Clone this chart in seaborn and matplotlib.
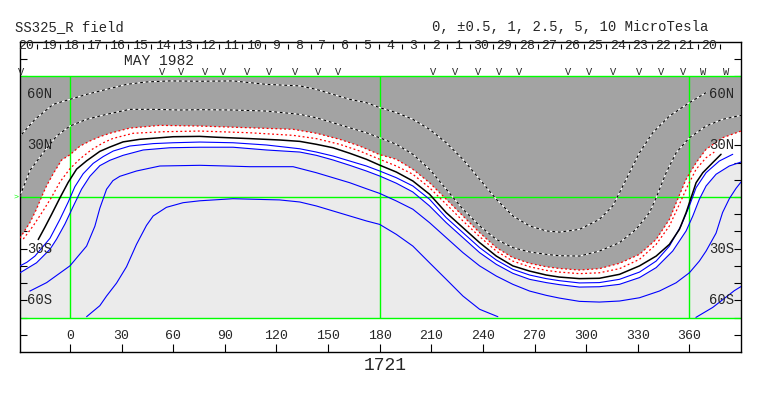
import numpy as np
import matplotlib
matplotlib.use("Agg")
import matplotlib.pyplot as plt
import seaborn as sns

# contour traces (Carrington longitude, latitude)
neutral_lon = [-18.4, -14.5, -10.6, -5.8, -1.0, 3.9, 9.7, 17.4, 23.2, 30.9, 40.6, 52.3, 60.0, 75.5, 85.2,
               104.5, 121.9, 133.6, 143.2, 152.9, 162.6, 172.3, 180.0, 189.7, 199.3, 209.0, 218.7, 228.4,
               238.1, 247.8, 257.4, 267.1, 276.8, 284.5, 296.1, 307.7, 319.4, 331.0, 340.7, 348.4, 354.2,
               358.1, 361.0, 363.9, 367.8, 373.5, 378.4]
neutral_lat = [-24.7, -17.5, -10.0, -0.5, 8.5, 16.2, 21.0, 26.5, 29.0, 32.0, 33.5, 34.4, 35.0, 35.2, 34.7,
               33.9, 33.1, 32.3, 30.6, 28.6, 25.4, 21.9, 18.5, 14.5, 9.3, 1.6, -9.1, -17.8,
               -26.5, -34.3, -40.0, -43.0, -45.3, -46.5, -47.4, -47.2, -44.9, -40.0, -34.3, -27.5, -18.8,
               -9.1, -0.4, 8.3, 14.1, 19.9, 24.8]

pos1_lon = [-29.0, -23.2, -19.4, -16.5, -13.5, -9.7, -4.8, 0.0, 5.8, 11.6, 17.4, 23.2, 34.8, 52.3, 75.5,
            104.5, 129.7, 143.2, 156.8, 168.4, 180.0, 189.7, 199.3, 209.0, 218.7, 228.4, 238.1, 247.8,
            257.4, 267.1, 276.8, 284.5, 296.1, 307.7, 319.4, 331.0, 340.7, 348.4, 353.2, 358.1, 363.9,
            369.7, 379.3, 390.0]
pos1_lat = [-23.8, -14.8, -7.0, 0.0, 6.6, 13.5, 21.5, 24.5, 29.5, 32.5, 35.0, 37.0, 40.0, 41.6, 41.2,
            40.2, 39.3, 37.0, 33.5, 29.6, 24.6, 21.9, 16.1, 8.3, -1.3, -11.0, -20.7, -29.4,
            -35.2, -38.5, -40.5, -41.5, -42.4, -41.6, -38.5, -33.3, -24.6, -13.0, -1.3, 10.3, 19.9,
            27.7, 34.4, 38.3]

pos05_lon = [-27.1, -21.3, -15.5, -10.6, -5.8, 0.0, 5.8, 12.6, 19.4, 25.0, 36.8, 54.2, 75.5, 104.5, 129.7,
             143.2, 156.8, 168.4, 180.0, 189.7, 199.3, 209.0, 218.7, 228.4, 238.1, 247.8, 257.4, 267.1,
             276.8, 284.5, 296.1, 307.7, 319.4, 331.0, 340.7, 348.4, 354.2, 359.0, 363.9, 369.7, 374.5]
pos05_lat = [-24.4, -16.7, -7.9, 0.0, 8.7, 16.4, 22.1, 27.5, 31.5, 34.0, 37.0, 37.9, 38.3, 37.3, 35.8,
             33.9, 30.6, 26.7, 21.9, 18.0, 13.2, 5.4, -4.2, -13.9, -23.0, -31.4, -37.2, -40.5,
             -42.6, -43.6, -44.5, -44.0, -41.6, -36.2, -27.5, -16.8, -4.2, 6.4, 16.1, 22.8, 26.1]

pos25_lon = [-29.0, -23.2, -15.5, -7.7, 0.0, 9.7, 21.3, 34.8, 48.4, 63.9, 75.5, 94.8, 114.2, 133.6, 143.2,
             152.9, 162.6, 172.3, 180.0, 189.7, 199.3, 209.0, 218.7, 228.4, 238.1, 247.8, 257.4, 267.1,
             276.8, 284.5, 296.1, 307.7, 319.4, 329.0, 336.8, 340.7, 346.5, 352.3, 360.0, 369.7, 379.3,
             390.0]
pos25_lat = [0.6, 15.5, 25.7, 35.4, 41.2, 45.1, 48.0, 50.9, 50.9, 50.5, 50.7, 50.5, 49.9, 48.0, 46.0,
             43.1, 40.2, 37.3, 34.4, 30.6, 24.8, 16.1, 4.5, -7.1, -16.8, -24.6, -29.4, -31.9,
             -33.3, -34.1, -34.3, -31.4, -26.5, -18.8, -9.1, -0.4, 14.1, 25.7, 34.4, 41.2, 45.1,
             47.4]

pos5_lon = [-28.0, -20.3, -9.7, 0.0, 9.7, 21.3, 32.9, 44.5, 58.1, 75.5, 94.8, 114.2, 133.6, 143.2, 152.9,
            162.6, 172.3, 180.0, 189.7, 199.3, 209.0, 218.7, 228.4, 238.1, 247.8, 257.4, 267.1, 276.8,
            284.5, 296.1, 307.7, 315.5, 319.4, 325.2, 331.0, 338.7, 348.4, 360.0, 369.7]
pos5_lat = [36.4, 45.1, 53.8, 56.7, 59.6, 62.5, 65.4, 66.8, 67.4, 67.2, 67.4, 65.4, 64.5, 62.5, 59.6,
            56.7, 54.8, 51.9, 49.0, 45.1, 39.3, 31.5, 21.9, 10.3, -1.3, -11.0, -16.8, -19.7,
            -20.4, -18.8, -13.0, -5.2, 2.5, 14.1, 25.7, 37.3, 47.0, 54.8, 60.6]

neg05_lon = [-29.0, -25.0, -20.3, -11.6, -5.8, -1.0, 2.9, 7.7, 13.5, 19.4, 25.2, 34.8, 48.4, 60.0, 75.5,
             94.8, 114.2, 133.6, 143.2, 152.9, 162.6, 172.3, 180.0, 189.7, 199.3, 209.0, 218.7, 228.4,
             238.1, 247.8, 257.4, 267.1, 276.8, 284.5, 296.1, 307.7, 319.4, 331.0, 340.7, 348.4, 355.1,
             360.0, 363.9, 369.7, 377.4, 385.2]
neg05_lat = [-40.0, -37.9, -34.3, -24.0, -13.0, -3.0, 6.0, 13.5, 19.5, 23.5, 26.7, 29.6, 31.0, 31.5, 31.9,
             31.5, 30.2, 28.0, 26.1, 23.8, 20.9, 18.0, 15.1, 11.2, 6.4, -1.3, -12.0, -20.7,
             -29.4, -36.6, -42.0, -45.3, -47.4, -48.6, -49.9, -49.7, -47.8, -43.6, -37.2, -28.5, -16.8,
             -5.2, 5.4, 14.1, 20.9, 24.8]

neg1_lon = [-29.0, -19.4, -11.6, -7.7, -2.9, 1.9, 6.8, 11.6, 17.4, 23.2, 30.9, 42.6, 58.1, 75.5, 94.8,
            114.2, 133.6, 143.2, 152.9, 162.6, 172.3, 180.0, 189.7, 199.3, 209.0, 218.7, 228.4, 238.1,
            247.8, 257.4, 267.1, 276.8, 284.5, 296.1, 307.7, 319.4, 331.0, 340.7, 350.3, 358.1, 362.0,
            365.8, 369.7, 375.5, 383.2, 390.0]
neg1_lat = [-44.0, -38.2, -30.4, -24.4, -15.7, -5.5, 4.6, 12.0, 18.2, 21.3, 24.2, 27.3, 28.6, 28.9, 28.9,
            27.3, 26.1, 24.2, 21.5, 18.4, 15.1, 12.2, 8.0, 2.9, -5.2, -14.9, -23.6, -32.3,
            -39.1, -44.3, -47.8, -49.7, -50.9, -52.3, -52.1, -50.7, -46.8, -41.0, -31.4, -19.7, -11.0,
            -1.3, 6.4, 13.2, 18.0, 20.3]

neg25_lon = [-23.2, -13.5, 0.0, 9.7, 14.5, 17.4, 21.3, 25.0, 29.0, 38.7, 52.3, 75.5, 91.0, 104.5, 129.7,
             143.2, 152.9, 162.6, 172.3, 180.0, 189.7, 199.3, 209.0, 218.7, 228.4, 238.1, 247.8, 257.4,
             267.1, 276.8, 284.5, 296.1, 307.7, 319.4, 331.0, 342.6, 352.3, 360.0, 365.8, 369.7, 375.5,
             379.3, 383.2, 387.1, 390.0]
neg25_lat = [-54.6, -49.7, -40.0, -28.5, -17.0, -6.5, 4.5, 9.5, 12.0, 15.1, 18.0, 18.4, 18.0, 17.6, 17.6,
             14.1, 11.2, 8.3, 4.8, 2.1, -2.3, -7.1, -14.9, -23.6, -32.3, -40.0, -45.9, -50.7,
             -54.6, -57.1, -58.7, -60.6, -61.0, -60.4, -58.5, -54.6, -49.8, -44.0, -37.2, -31.4, -21.0,
             -9.0, -1.0, 5.0, 8.7]

neg5_lon = [9.7, 17.4, 21.3, 27.1, 32.9, 38.7, 44.5, 48.4, 56.1, 65.8, 75.5, 94.8, 121.9, 133.6, 143.2,
            152.9, 162.6, 172.3, 180.0, 189.7, 199.3, 209.0, 218.7, 228.4, 238.1, 248.7]
neg5_lat = [-69.5, -63.1, -57.5, -50.0, -40.5, -27.5, -16.5, -11.0, -6.0, -3.3, -2.2, -1.0, -1.7, -2.9, -5.2,
            -8.1, -11.0, -13.9, -15.9, -21.7, -28.5, -38.2, -47.8, -57.5, -65.2, -69.5]
neg5b_lon = [363.8, 373.6, 386.1, 390.0]
neg5b_lat = [-69.9, -64.1, -54.4, -52.0]

# top strip: days of May/April 1982 and observation marks
days = [20, 19, 18, 17, 16, 15, 14, 13, 12, 11, 10, 9, 8, 7, 6, 5, 4, 3, 2, 1,
        30, 29, 28, 27, 26, 25, 24, 23, 22, 21, 20]
obs_lon = [-28.5, 53.6, 64.4, 78.4, 89.0, 103.0, 115.7, 130.6, 144.2, 155.8, 211.0, 224.1, 237.1,
           249.3, 261.3, 289.3, 301.9, 315.5, 330.6, 343.6, 356.5, 367.7, 381.3]
obs_mark = ["V"] * 21 + ["W", "W"]

lon_ticks = [0, 30, 60, 90, 120, 150, 180, 210, 240, 270, 300, 330, 360]
lat_labels = ["60N", "30N", "30S", "60S"]
lat_label_pos = [60, 30, -30, -60]

sns.set_style("white")
plt.rcParams["font.family"] = ["Liberation Mono", "DejaVu Sans Mono"]

DARK = "#a3a3a3"
LIGHT = "#ebebeb"
GREEN = "#00ff00"
BLUE = "#0000ff"
RED = "#ff0000"

fig = plt.figure(figsize=(7.63, 3.96), dpi=100)
ax = fig.add_axes([20 / 763, 44 / 396, 721 / 763, 310 / 396])

# shading: negative side light, neutral band white, positive side dark
ax.axhspan(-70, 70, color=LIGHT, lw=0, zorder=0)
band_x = pos1_lon + neg1_lon[::-1]
band_y = pos1_lat + neg1_lat[::-1]
ax.fill(band_x, band_y, color="white", lw=0, zorder=0.5)
ax.fill(pos1_lon + [390, -29], pos1_lat + [70, 70], color=DARK, lw=0, zorder=0.6)

# green reference grid
ax.axhline(70, color=GREEN, lw=1.0, zorder=1)
ax.axhline(-70, color=GREEN, lw=1.0, zorder=1)
ax.axhline(0, color=GREEN, lw=1.0, zorder=1)
ax.vlines([0, 180, 360], -70, 70, color=GREEN, lw=1.0, zorder=1)


def trace(lon, lat, **kw):
    sns.lineplot(x=lon, y=lat, ax=ax, sort=False, estimator=None, zorder=3,
                 solid_joinstyle="round", dash_joinstyle="round", **kw)


for lon, lat in [(neg05_lon, neg05_lat), (neg1_lon, neg1_lat), (neg25_lon, neg25_lat),
                 (neg5_lon, neg5_lat), (neg5b_lon, neg5b_lat)]:
    trace(lon, lat, color=BLUE, lw=0.8)

for lon, lat in [(pos25_lon, pos25_lat), (pos5_lon, pos5_lat)]:
    trace(lon, lat, color="white", lw=0.8)
    trace(lon, lat, color="black", lw=0.8, linestyle=(0, (2.5, 2.5)))

for lon, lat in [(pos05_lon, pos05_lat), (pos1_lon, pos1_lat)]:
    trace(lon, lat, color=RED, lw=0.9, linestyle=(0, (1.5, 2.0)))

trace(neutral_lon, neutral_lat, color="black", lw=1.1)

ax.set_xlim(-29, 390)
ax.set_ylim(-90, 90)
ax.set_xlabel("")
ax.set_ylabel("")

ax.set_yticks(np.arange(-80, 81, 10))
ax.set_xticks(lon_ticks)
ax.tick_params(axis="y", direction="in", left=True, right=True, length=5, width=0.8,
               labelleft=False, color="black")
ax.tick_params(axis="x", direction="in", bottom=True, top=False, length=6, width=0.8,
               labelbottom=False, color="black")
for s in ax.spines.values():
    s.set_color("black")
    s.set_linewidth(1.0)

for t in lon_ticks:
    ax.text(t, -80.5, str(t), ha="center", va="center", fontsize=9.5)

for lab, pos in zip(lat_labels, lat_label_pos):
    ax.text(-25, pos, lab, ha="left", va="center", fontsize=10, zorder=4)
    ax.text(386, pos, lab, ha="right", va="center", fontsize=10, zorder=4)

step = 13.23
for i, d in enumerate(days):
    x = -25.55 + step * i
    ax.text(x, 87.4, str(d), ha="center", va="center", fontsize=9.5)
    ax.vlines(x - step / 2, 85.7, 88.6, color="black", lw=0.8)
ax.vlines(-25.55 + step * (len(days) - 0.5), 85.7, 88.6, color="black", lw=0.8)

ax.text(52, 79, "MAY 1982", ha="center", va="center", fontsize=10.5)

for x, m in zip(obs_lon, obs_mark):
    ax.text(x, 70.6, m, ha="center", va="baseline", fontsize=7.5)

ax.text(-30, 0, ">", ha="right", va="center", color=GREEN, fontsize=6, clip_on=False)

fig.text(15 / 763, 1 - 27 / 396, "SS325_R field", ha="left", va="center", fontsize=10)
fig.text(432 / 763, 1 - 27 / 396, "0, \u00b10.5, 1, 2.5, 5, 10 MicroTesla", ha="left", va="center",
         fontsize=10)
fig.text(385 / 763, 1 - 366 / 396, "1721", ha="center", va="center", fontsize=13)

fig.savefig("out.png", dpi=100)
